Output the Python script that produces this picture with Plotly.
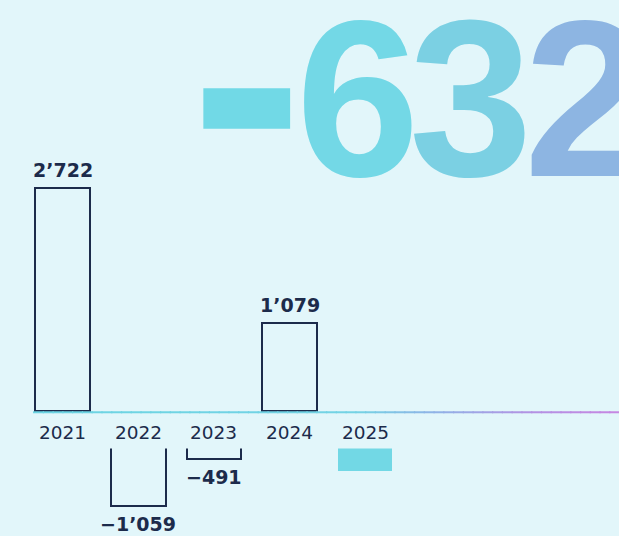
import plotly.graph_objects as go

years = ["2021", "2022", "2023", "2024", "2025"]
values = [2722, -1059, -491, 1079, -632]
value_labels = ["2’722", "−1’059", "−491", "1’079", ""]
headline_chars = ["-", "6", "3", "2"]

BG = "#e2f6fa"
NAVY = "#1c2b4b"
CYAN = "#72d8e5"
NEG_BASE = -96

xs = list(range(len(years)))
bases = [0 if v >= 0 else NEG_BASE for v in values]
is_last = [i == len(years) - 1 for i in xs]
fills = [CYAN if last else "rgba(0,0,0,0)" for last in is_last]
line_w = [0 if last else 2 for last in is_last]

fig = go.Figure()
fig.add_trace(go.Bar(
    x=xs, y=values, base=bases, width=0.72,
    marker=dict(color=fills, line=dict(color=NAVY, width=line_w)),
    hoverinfo="skip",
))

YMIN, YMAX = -1525, 5016
XMIN, XMAX = -0.829, 7.358
W, H = 619, 536

shapes = []
# cover band hiding the tops of the negative bars (label zone)
shapes.append(dict(type="rect", xref="paper", x0=0, x1=1, yref="y", y0=-40, y1=-458,
                   fillcolor=BG, line=dict(width=0), layer="above"))

# gradient baseline
stops = [(0.0, (0x6c, 0xd4, 0xe3)), (0.55, (0x74, 0xd3, 0xe4)), (0.68, (0x8f, 0xb4, 0xe6)),
         (0.85, (0xb3, 0x92, 0xe3)), (1.0, (0xc6, 0x86, 0xe2))]

def col(t):
    for (t0, c0), (t1, c1) in zip(stops[:-1], stops[1:]):
        if t0 <= t <= t1:
            f = (t - t0) / (t1 - t0) if t1 > t0 else 0
            c = [round(a + (b - a) * f) for a, b in zip(c0, c1)]
            return "rgb(%d,%d,%d)" % tuple(c)
    return "rgb(%d,%d,%d)" % stops[-1][1]

x_start = 33 / W
n = 60
for i in range(n):
    a = x_start + (1 - x_start) * i / n
    b = x_start + (1 - x_start) * (i + 1) / n
    shapes.append(dict(type="line", xref="paper", yref="y", x0=a, x1=min(b + 0.002, 1), y0=-15, y1=-15,
                       line=dict(color=col((i + 0.5) / n), width=2), layer="above"))

annotations = []
for x, yr, v, b, lab in zip(xs, years, values, bases, value_labels):
    annotations.append(dict(x=x, y=0, xref="x", yref="y", text=yr, showarrow=False,
                            yanchor="middle", yshift=-21,
                            font=dict(family="DejaVu Sans", size=18.5, color=NAVY)))
    if lab:
        if v >= 0:
            annotations.append(dict(x=x, y=v, xref="x", yref="y", text=lab, showarrow=False,
                                    yanchor="bottom", yshift=5,
                                    font=dict(family="DejaVu Sans", size=19, color=NAVY, weight=700)))
        else:
            annotations.append(dict(x=x, y=b + v, xref="x", yref="y", text=lab, showarrow=False,
                                    yanchor="top", yshift=-5,
                                    font=dict(family="DejaVu Sans", size=19, color=NAVY, weight=700)))

# big headline, one glyph per annotation so each can carry its own gradient tint
head_cx = [247, 357, 470, 585]
head_cy = [69, 99, 99, 99]
head_col = ["#71d9e6", "#73d8e6", "#7bd0e3", "#8db5e2"]
head_size = [330, 222, 222, 222]
head_font = ["Noto Sans", "Liberation Sans", "Liberation Sans", "Liberation Sans"]
for ch, cx, cy, c, s, f in zip(headline_chars, head_cx, head_cy, head_col, head_size, head_font):
    annotations.append(dict(x=cx / W, y=1 - cy / H, xref="paper", yref="paper", text=ch,
                            showarrow=False, xanchor="center", yanchor="middle",
                            font=dict(family=f, size=s, color=c, weight=700)))

fig.update_layout(
    width=W, height=H, margin=dict(l=0, r=0, t=0, b=0),
    paper_bgcolor=BG, plot_bgcolor=BG, showlegend=False,
    xaxis=dict(range=[XMIN, XMAX], visible=False, fixedrange=True),
    yaxis=dict(range=[YMIN, YMAX], visible=False, fixedrange=True),
    shapes=shapes, annotations=annotations, bargap=0,
)

fig.write_html("out.html", config={"displayModeBar": False},
               post_script="document.body.style.margin='0';")
